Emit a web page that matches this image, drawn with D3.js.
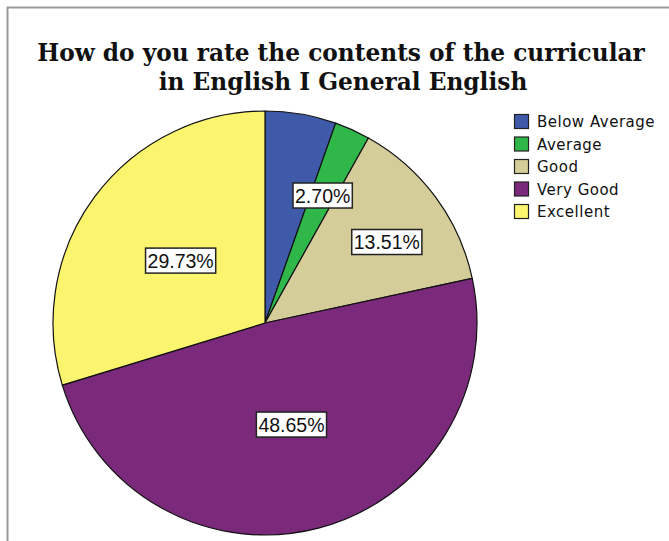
<!DOCTYPE html>
<html><head><meta charset="utf-8">
<script src="https://cdn.jsdelivr.net/npm/d3@7"></script>
<style>html,body{margin:0;padding:0;background:#fff;overflow:hidden}</style>
</head><body>
<script>
const categories = ["Below Average", "Average", "Good", "Very Good", "Excellent"];
const percents = [5.41, 2.70, 13.51, 48.65, 29.73];
const shownLabels = [false, true, true, true, true];
const colors = ["#3f5aa9", "#2fb74a", "#d4cd99", "#7b297b", "#fbf46f"];
const titleLines = ["How do you rate the contents of the curricular", "in English I General English"];

const W = 669, H = 541;
const svg = d3.select("body").append("svg").attr("width", W).attr("height", H);

// frame
svg.append("path").attr("d", `M7.5,${H} L7.5,7.5 L${W},7.5`)
  .attr("fill", "none").attr("stroke", "#9a9a9a").attr("stroke-width", 2);

// title
const t1 = svg.append("text").attr("x", 341).attr("y", 61)
  .attr("text-anchor", "middle").attr("font-family", "DejaVu Serif")
  .attr("font-weight", "bold").attr("font-size", 22).attr("fill", "#111").text(titleLines[0]);
const w1 = t1.node().getComputedTextLength();
const fs = 22 * 608 / w1;
t1.attr("font-size", fs);
svg.append("text").attr("x", 343).attr("y", 90)
  .attr("text-anchor", "middle").attr("font-family", "DejaVu Serif")
  .attr("font-weight", "bold").attr("font-size", fs).attr("fill", "#111").text(titleLines[1]);

// pie
const cx = 265, cy = 323, R = 212;
const data = categories.map((c, i) => ({ cat: c, v: percents[i], show: shownLabels[i], color: colors[i] }));
const pie = d3.pie().value(d => d.v).sort(null);
const arc = d3.arc().innerRadius(0).outerRadius(R);
const arcs = pie(data);
const g = svg.append("g").attr("transform", `translate(${cx},${cy})`);
g.selectAll("path").data(arcs).join("path")
  .attr("d", arc).attr("fill", d => d.data.color)
  .attr("stroke", "#111").attr("stroke-width", 1.2).attr("stroke-linejoin", "round");

// labels
const lbl = g.selectAll("g.lbl").data(arcs.filter(d => d.data.show)).join("g").attr("class", "lbl")
  .attr("transform", d => {
    const a = (d.startAngle + d.endAngle) / 2;
    const r = d.data.v < 5 ? R * 0.66 : d.data.v < 20 ? R * 0.69 : R * 0.495;
    const da = d.data.v < 20 && d.data.v >= 5 ? 0.05 : 0;
    return `translate(${r * Math.sin(a + da)},${-r * Math.cos(a + da)})`;
  });
lbl.each(function (d) {
  const s = d3.select(this);
  const txt = d.data.v.toFixed(2) + "%";
  const rect = s.append("rect").attr("fill", "#fff").attr("stroke", "#222").attr("stroke-width", 1.5);
  const t = s.append("text").attr("text-anchor", "middle").attr("dy", "0.36em")
    .attr("font-family", "Liberation Sans").attr("font-size", 19.5).attr("fill", "#111").text(txt);
  const bw = t.node().getComputedTextLength() + 4;
  rect.attr("x", -bw / 2).attr("y", -12.5).attr("width", bw).attr("height", 25);
});

// legend
const leg = svg.append("g").attr("transform", "translate(514,114)");
const items = leg.selectAll("g").data(data).join("g").attr("transform", (d, i) => `translate(0,${i * 22.5})`);
items.append("rect").attr("x", 0.5).attr("y", 0.5).attr("width", 14).attr("height", 14)
  .attr("fill", d => d.color).attr("stroke", "#222").attr("stroke-width", 1.2);
items.append("text").attr("x", 23).attr("y", 8).attr("dy", "0.36em")
  .attr("font-family", "DejaVu Sans").attr("font-size", 15).attr("letter-spacing", 0.5)
  .attr("fill", "#111").text(d => d.cat);
</script>
</body></html>
